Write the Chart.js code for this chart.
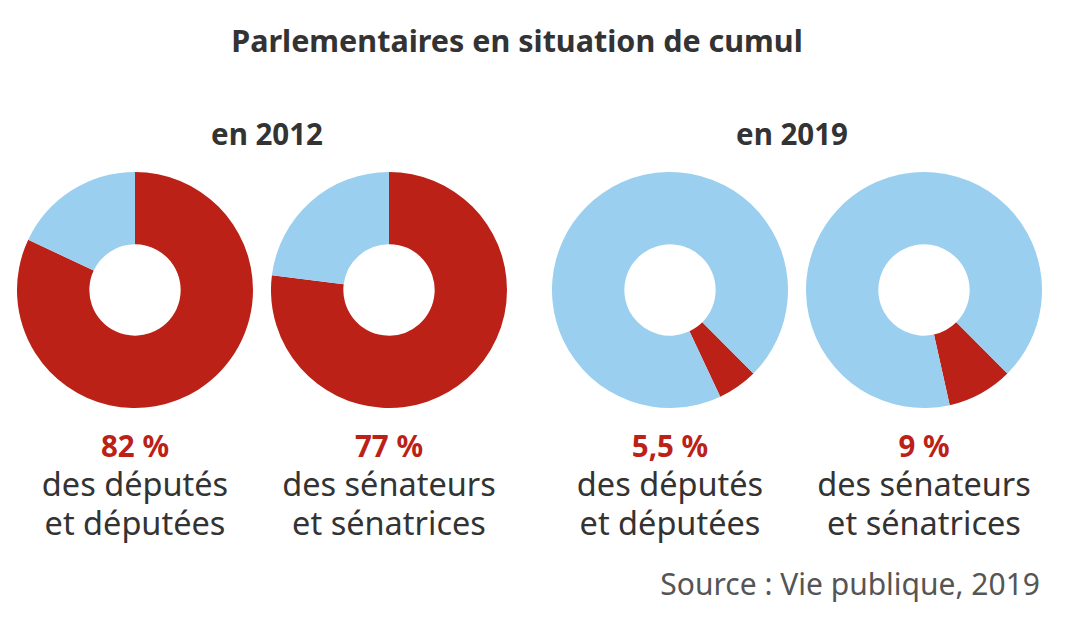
<!DOCTYPE html>
<html lang="fr">
<head>
<meta charset="utf-8">
<title>Parlementaires en situation de cumul</title>
<script src="https://cdn.jsdelivr.net/npm/chart.js@4/dist/chart.umd.min.js"></script>
<style>
  html, body { margin: 0; padding: 0; background: #fff; }
  body { width: 1068px; height: 621px; position: relative; overflow: hidden;
         font-family: "Noto Sans", "Open Sans", sans-serif; color: #333; }
  .t { position: absolute; white-space: nowrap; transform: translateX(-50%); text-align: center; }
  #title { left: 517px; top: 19px; font-size: 30.5px; font-weight: 700; }
  .year { top: 113px; font-size: 29.5px; font-weight: 700; }
  .pct { top: 425px; font-size: 29.5px; font-weight: 700; color: #bb2117; }
  .desc { top: 464px; font-size: 32.5px; line-height: 39px; }
  #source { position: absolute; right: 28px; top: 563px; font-size: 30px; color: #555; }
  .donut { position: absolute; top: 172px; }
</style>
</head>
<body>
<div id="title" class="t">Parlementaires en situation de cumul</div>
<div id="source">Source : Vie publique, 2019</div>

<script>
// data
const years = ['en 2012', 'en 2019'];
const groups = ['des députés<br>et députées', 'des sénateurs<br>et sénatrices',
                'des députés<br>et députées', 'des sénateurs<br>et sénatrices'];
const cumulLabels = ['82 %', '77 %', '5,5 %', '9 %'];
const cumulShare = [82, 77, 5.5, 9];

const red = '#bb2117';
const blue = '#9acfef';
const centersX = [135, 389, 670, 924];
const yearX = [267, 792];
const rotations = [0, 0, 135, 135];
const size = 236;

years.forEach((y, i) => {
    const d = document.createElement('div');
    d.className = 't year';
    d.style.left = yearX[i] + 'px';
    d.textContent = y;
    document.body.appendChild(d);
});

cumulShare.forEach((share, i) => {
    const box = document.createElement('div');
    box.className = 'donut';
    box.style.left = (centersX[i] - size / 2) + 'px';
    const canvas = document.createElement('canvas');
    canvas.width = size;
    canvas.height = size;
    box.appendChild(canvas);
    document.body.appendChild(box);

    const p = document.createElement('div');
    p.className = 't pct';
    p.style.left = centersX[i] + 'px';
    p.textContent = cumulLabels[i];
    document.body.appendChild(p);

    const g = document.createElement('div');
    g.className = 't desc';
    g.style.left = centersX[i] + 'px';
    g.innerHTML = groups[i];
    document.body.appendChild(g);

    new Chart(canvas.getContext('2d'), {
        type: 'doughnut',
        data: {
            labels: ['En situation de cumul', 'Autres'],
            datasets: [{
                data: [share, 100 - share],
                backgroundColor: [red, blue],
                borderWidth: 0
            }]
        },
        options: {
            responsive: false,
            animation: false,
            cutout: '38.7%',
            rotation: rotations[i],
            layout: { padding: 0 },
            plugins: {
                legend: { display: false },
                tooltip: { enabled: false }
            }
        }
    });
});
</script>
</body>
</html>
